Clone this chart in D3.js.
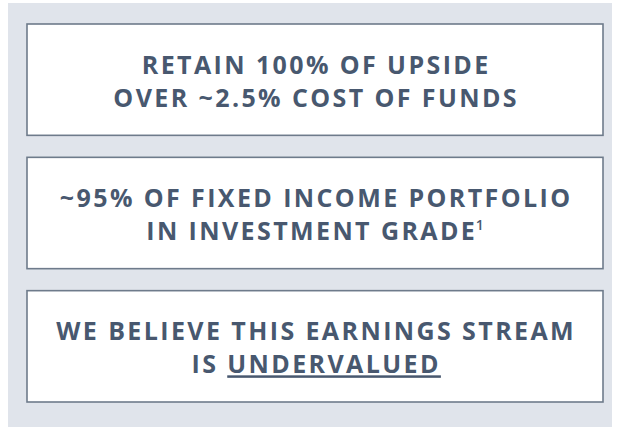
<!DOCTYPE html>
<html>
<head>
<meta charset="utf-8">
<script src="https://cdn.jsdelivr.net/npm/d3@7/dist/d3.min.js"></script>
<style>
  html, body { margin: 0; padding: 0; background: #fff; }
  text { font-family: "Open Sans", sans-serif; font-weight: 700; }
</style>
</head>
<body>
<svg id="panel" width="618" height="427"></svg>
<script>
// three statement boxes, top to bottom
const boxNames = ['upside', 'portfolio', 'valuation'];
const line1 = ['RETAIN 100% OF UPSIDE', '~95% OF FIXED INCOME PORTFOLIO', 'WE BELIEVE THIS EARNINGS STREAM'];
const line2 = ['OVER ~2.5% COST OF FUNDS', 'IN INVESTMENT GRADE', 'IS '];
const line2Tail = ['', '', 'UNDERVALUED'];   // underlined part
const footnotes = ['', '1', ''];

const width = 618, height = 427;
const svg = d3.select('#panel');

svg.append('rect')
    .attr('x', 8).attr('y', 3)
    .attr('width', width - 14).attr('height', height - 3)
    .attr('fill', '#e0e4eb');

const y = d3.scaleBand()
    .domain(boxNames)
    .range([24, 402])
    .paddingInner(0.165);

const boxX = 27, boxW = 576;

const box = svg.selectAll('g.box')
    .data(boxNames)
    .join('g')
    .attr('class', 'box')
    .attr('transform', d => `translate(${boxX},${y(d)})`);

box.append('rect')
    .attr('width', boxW)
    .attr('height', y.bandwidth())
    .attr('fill', '#fff')
    .attr('stroke', '#6e7b8b')
    .attr('stroke-width', 1.6);

const fontSize = 25;
const spacing = 2.4;
const textColor = '#48586f';

box.append('text')
    .attr('x', boxW / 2 + spacing / 2)
    .attr('y', y.bandwidth() / 2 - 6)
    .attr('text-anchor', 'middle')
    .attr('font-size', fontSize)
    .attr('fill', textColor)
    .attr('letter-spacing', spacing)
    .text((d, i) => line1[i]);

const second = box.append('text')
    .attr('x', boxW / 2 + spacing / 2)
    .attr('y', y.bandwidth() / 2 + 27)
    .attr('text-anchor', 'middle')
    .attr('font-size', fontSize)
    .attr('fill', textColor)
    .attr('letter-spacing', spacing);

second.append('tspan').text((d, i) => line2[i]);
second.append('tspan')
    .attr('text-decoration', 'underline')
    .text((d, i) => line2Tail[i]);
second.append('tspan')
    .attr('font-size', 14)
    .attr('font-weight', 600)
    .attr('dx', (d, i) => footnotes[i] ? -1.5 : 0)
    .attr('dy', -10)
    .text((d, i) => footnotes[i]);
</script>
</body>
</html>
